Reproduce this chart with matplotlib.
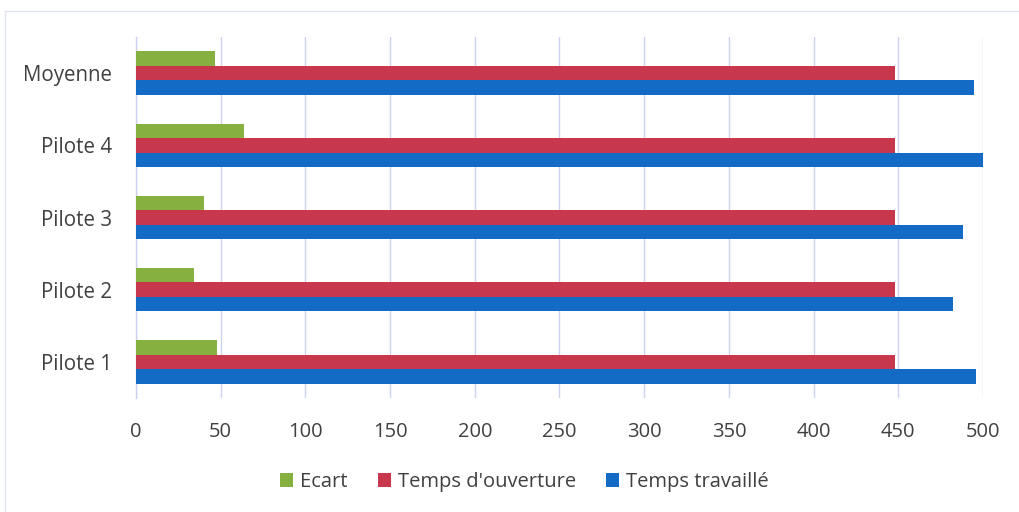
import matplotlib
matplotlib.use("Agg")
import matplotlib.pyplot as plt
from matplotlib.patches import Patch
from matplotlib.lines import Line2D
import numpy as np

plt.rcParams['font.family'] = ['Open Sans', 'DejaVu Sans']

categories = ["Pilote 1", "Pilote 2", "Pilote 3", "Pilote 4", "Moyenne"]
ecart = [48, 34, 40, 64, 46.5]
temps_ouverture = [448, 448, 448, 448, 448]
temps_travaille = [496, 482, 488, 512, 494.5]
x_ticks = [0, 50, 100, 150, 200, 250, 300, 350, 400, 450, 500]

c_green = "#86b141"
c_red = "#c8384c"
c_blue = "#136bc5"
grid_c = "#cfd2ec"
text_c = "#404040"

fig = plt.figure(figsize=(10.2, 5.12), dpi=100)
ax = fig.add_axes([136 / 1020, 1 - 398 / 512, (983 - 136) / 1020, (398 - 37) / 512])

y = np.arange(len(categories))
h = 0.2
ax.barh(y + h, ecart, height=h, color=c_green, label="Ecart", zorder=3)
ax.barh(y, temps_ouverture, height=h, color=c_red, label="Temps d'ouverture", zorder=3)
ax.barh(y - h, temps_travaille, height=h, color=c_blue, label="Temps travaillé", zorder=3)

ax.set_xlim(0, 500)
ax.set_ylim(-0.5, len(categories) - 0.5)
ax.set_xticks(x_ticks)
ax.set_xticklabels([str(v) for v in x_ticks])
ax.set_yticks(y)
ax.set_yticklabels(categories)
ax.tick_params(axis='x', length=0, pad=17, labelsize=14.5, colors=text_c)
ax.tick_params(axis='y', length=0, pad=17, labelsize=14.8, colors=text_c)
ax.grid(axis='x', color=grid_c, linewidth=1.0, zorder=0)
for s in ["top", "right", "bottom"]:
    ax.spines[s].set_visible(False)
ax.spines["left"].set_color(grid_c)
ax.spines["left"].set_linewidth(1.0)

handles = [Patch(facecolor=c_green, label="Ecart"),
           Patch(facecolor=c_red, label="Temps d'ouverture"),
           Patch(facecolor=c_blue, label="Temps travaillé")]
leg = fig.legend(handles=handles, loc="center", bbox_to_anchor=(0.514, 1 - 482 / 512),
                 ncol=3, frameon=False, fontsize=14.5, handlelength=0.65, handleheight=0.65,
                 handletextpad=0.35, columnspacing=1.5)
for t in leg.get_texts():
    t.set_color(text_c)

# faint outer frame of the chart area
fig.add_artist(Line2D([5 / 1020, 5 / 1020], [0, 1 - 11 / 512], transform=fig.transFigure,
                      color="#dfe4ee", linewidth=1.0))
fig.add_artist(Line2D([5 / 1020, 1], [1 - 11 / 512, 1 - 11 / 512], transform=fig.transFigure,
                      color="#dfe4ee", linewidth=1.0))

fig.savefig("out.png", dpi=100, facecolor="white")
